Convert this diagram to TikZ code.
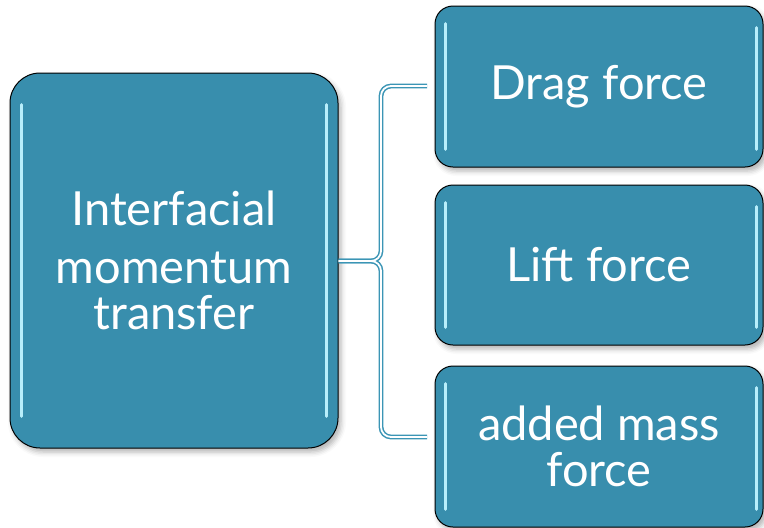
\documentclass[tikz,border=0pt]{standalone}
\usepackage{fontspec}
\setmainfont{Lato}
\usetikzlibrary{shadows.blur,calc}
\definecolor{boxfill}{HTML}{388EAD}
\definecolor{connc}{HTML}{3B95B5}
\definecolor{hl}{HTML}{B8EEFB}
\begin{document}
\begin{tikzpicture}[x=1pt,y=-1pt,
  box/.style={draw=black, line width=1pt, fill=boxfill, text=white, align=center, inner sep=0pt,
    font=\fontsize{47}{46}\selectfont,
    blur shadow={shadow xshift=3pt,shadow yshift=-4pt,shadow opacity=30,shadow blur radius=5pt}},
  bigbox/.style={box, minimum width=328pt, minimum height=375pt, rounded corners=30pt},
  smallbox/.style={box, minimum width=328pt, minimum height=161pt, rounded corners=18pt},
  gloss/.style={draw=hl, line width=2.8pt, line cap=round},
  linkouter/.style={draw=connc, line width=4.8pt, rounded corners=10pt},
  linkinner/.style={draw=white, line width=1.8pt, rounded corners=10pt}]
\useasboundingbox (0,0) rectangle (764,528);
\node[bigbox] (L) at (174,260.5) {Interfacial\\[12pt]momentum\\transfer};
\node[smallbox] (D) at (599,86.5) {Drag force};
\node[smallbox, minimum height=160pt] (F) at (599,265) {Lift force};
\node[smallbox] (A) at (599,446.5) {added mass\\force};
% gloss highlights
\foreach \n in {D,F,A}{
  \draw[gloss] ($(\n.north west)+(11,18)$) -- ($(\n.south west)+(11,-18)$);
  \draw[gloss] ($(\n.north east)+(-7,22)$) -- ($(\n.south east)+(-7,-18)$);
}
\draw[gloss] ($(L.north west)+(12,32)$) -- ($(L.south west)+(12,-32)$);
\draw[gloss] ($(L.north east)+(-12,32)$) -- ($(L.south east)+(-12,-32)$);
% connector
\coordinate (J) at (381,261);
\coordinate (T) at (427,86);
\coordinate (B) at (427,437);
\draw[linkouter] (L.east |- J) -- (J) |- (T);
\draw[linkouter] (L.east |- J) -- (J) |- (B);
\draw[linkinner] (L.east |- J) -- (J) |- (T);
\draw[linkinner] (L.east |- J) -- (J) |- (B);
\end{tikzpicture}
\end{document}
